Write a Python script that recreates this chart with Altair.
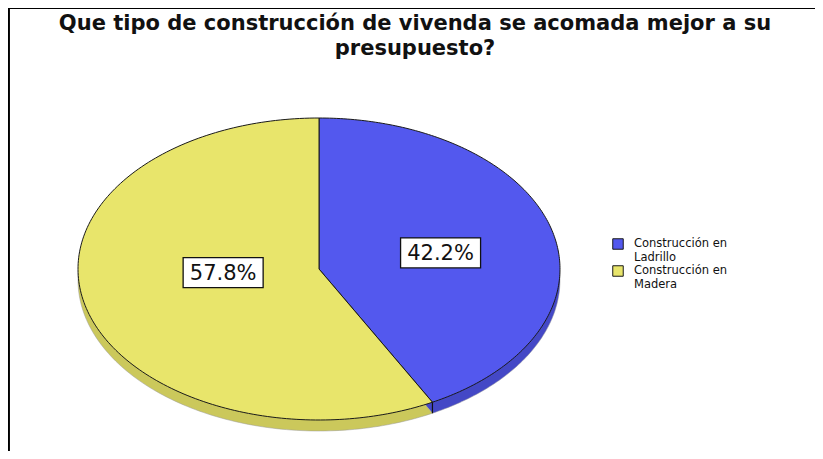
import altair as alt
import pandas as pd

# ---- data ----
CATEGORIES = ["Construcción en Ladrillo", "Construcción en Madera"]
PERCENTS = [42.2, 57.8]
LABELS = ["42.2%", "57.8%"]
TITLE_LINES = ["Que tipo de construcción de vivenda se acomada mejor a su", "presupuesto?"]

# ---- styles ----
TOP_COLORS = ["#5358EE", "#E8E56B"]
SIDE_COLORS = ["#4448C6", "#CBC85B"]
LABEL_FX = [0.52, 0.41]   # label placement (fraction of radius) per slice
LABEL_FY = [0.44, 0.10]
FONT = "DejaVu Sans"

W, H = 807, 443
CX, CY, RX, RY, DEPTH = 311, 261, 241, 151, 11
N = 180

df = pd.DataFrame({
    "cat": CATEGORIES, "pct": PERCENTS, "label": LABELS,
    "idx": list(range(len(CATEGORIES))), "fx": LABEL_FX, "fy": LABEL_FY,
})


def xq(field):
    return alt.X(field, type="quantitative", scale=alt.Scale(domain=[0, W], nice=False, zero=False), axis=None)


def yq(field):
    return alt.Y(field, type="quantitative", scale=alt.Scale(domain=[0, H], reverse=True, nice=False, zero=False), axis=None)


def slices(ch):
    return (
        ch.transform_joinaggregate(total="sum(pct)")
        .transform_window(cum="sum(pct)", sort=[alt.SortField("idx")], frame=[None, 0])
        .transform_calculate(a0="2*PI*(datum.cum-datum.pct)/datum.total")
        .transform_calculate(a1="2*PI*datum.cum/datum.total")
    )


def polygon(ch, dy):
    return (
        slices(ch)
        .transform_calculate(k=f"sequence(0, {N + 3})")
        .transform_flatten(["k"])
        .transform_calculate(t=f"datum.a0 + (datum.a1-datum.a0)*(datum.k-1)/{N}")
        .transform_calculate(center=f"datum.k == 0 || datum.k == {N + 2}")
        .transform_calculate(px=f"datum.center ? {CX} : {CX} + {RX}*sin(datum.t)")
        .transform_calculate(py=f"(datum.center ? {CY} : {CY} - {RY}*cos(datum.t)) + {dy}")
    )


base = alt.Chart(df)

side = polygon(base, DEPTH).mark_line(strokeWidth=0.5, stroke="#999").encode(
    x=xq("px"), y=yq("py"),
    fill=alt.Fill("cat:N", scale=alt.Scale(domain=CATEGORIES, range=SIDE_COLORS), legend=None),
    detail="cat:N",
    order=alt.Order("k:Q"),
)

top = polygon(base, 0).mark_line(strokeWidth=1, stroke="#1a1a1a").encode(
    x=xq("px"), y=yq("py"),
    fill=alt.Fill(
        "cat:N",
        scale=alt.Scale(domain=CATEGORIES, range=TOP_COLORS),
        legend=alt.Legend(
            title=None, orient="none", legendX=604, legendY=230,
            symbolType="square", symbolSize=110, symbolStrokeColor="#1a1a1a", symbolStrokeWidth=1,
            labelFont=FONT, labelFontSize=11.5, labelColor="#111", rowPadding=0, labelLimit=300,
            labelOffset=10,
            labelExpr="[substring(datum.label, 0, indexof(datum.label, ' en ') + 3), substring(datum.label, indexof(datum.label, ' en ') + 4)]",
        ),
    ),
    detail="cat:N",
    order=alt.Order("k:Q"),
)

edges = (
    slices(base)
    .transform_filter("cos(datum.a1) < 0 && datum.a1 < 2*PI - 0.001")
    .transform_calculate(ex=f"{CX} + {RX}*sin(datum.a1)")
    .transform_calculate(ey=f"{CY} - {RY}*cos(datum.a1)")
    .transform_calculate(ey2=f"datum.ey + {DEPTH}")
    .mark_rule(color="#111", strokeWidth=1.2)
    .encode(x=xq("ex"), y=yq("ey"), y2="ey2:Q")
)

lab = (
    slices(base)
    .transform_calculate(mid="(datum.a0 + datum.a1)/2")
    .transform_calculate(lx=f"{CX} + datum.fx*{RX}*sin(datum.mid)")
    .transform_calculate(ly=f"{CY} - datum.fy*{RY}*cos(datum.mid)")
    .transform_calculate(bx0="datum.lx - 40", bx1="datum.lx + 40", by0="datum.ly - 15", by1="datum.ly + 15")
)
boxes = lab.mark_rect(fill="white", stroke="#111", strokeWidth=1.3).encode(
    x=xq("bx0"), x2="bx1:Q", y=yq("by0"), y2="by1:Q"
)
texts = lab.mark_text(font=FONT, fontSize=21, color="#111", baseline="middle", align="center", dy=1).encode(
    x=xq("lx"), y=yq("ly"), text="label:N"
)

title = alt.Chart(pd.DataFrame({"t": ["\n".join(TITLE_LINES)]})).mark_text(
    font=FONT, fontSize=21, fontWeight="bold", color="#111", align="center",
    baseline="alphabetic", lineBreak="\n", lineHeight=25,
).encode(x=alt.value(407), y=alt.value(22), text="t:N")

frame_left = alt.Chart(df).mark_rule(color="black", strokeWidth=2.5).encode(
    x=alt.value(0.5), y=alt.value(0), y2=alt.value(H)
)
frame_top = alt.Chart(df).mark_rule(color="black", strokeWidth=1.2).encode(
    x=alt.value(0), x2=alt.value(W), y=alt.value(0.5)
)

chart = (
    alt.layer(side, top, edges, boxes, texts, title, frame_left, frame_top)
    .resolve_scale(fill="independent")
    .properties(width=W, height=H, padding=0, autosize=alt.AutoSizeParams(type="none"))
    .configure_view(stroke=None)
    .configure(background="white")
)

chart.save("out.html", embed_options={"renderer": "svg", "actions": False})
